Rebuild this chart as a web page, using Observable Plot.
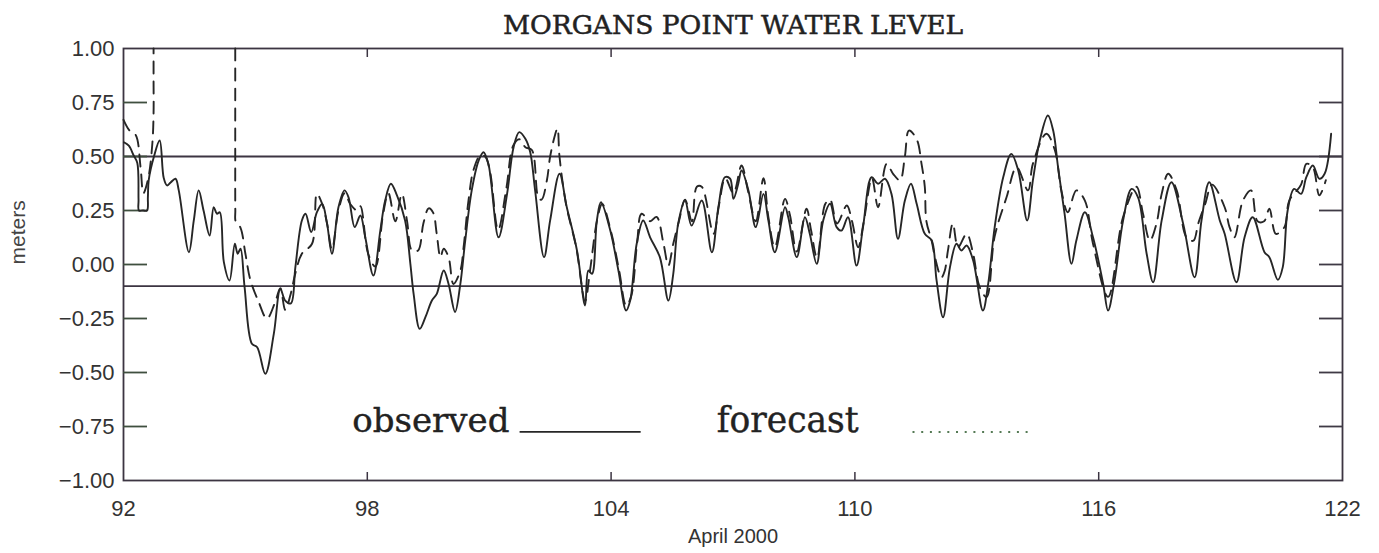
<!DOCTYPE html>
<html><head><meta charset="utf-8">
<script src="https://cdn.jsdelivr.net/npm/d3@7"></script>
<script src="https://cdn.jsdelivr.net/npm/@observablehq/plot@0.6"></script>
<style>
body{margin:0;background:#fff;}
#chart svg{display:block;}
</style>
</head><body><div id="chart"></div>
<script>
// ---- data (day of year, April 2000 ~ days 92-122; water level in meters) ----
const observed = [
[92.01,0.566],[92.13,0.55],[92.25,0.505],[92.34,0.47],[92.37,0.30],[92.38,0.25],[92.48,0.25],[92.58,0.25],[92.60,0.31],[92.62,0.39],[92.75,0.50],[92.89,0.574],[92.99,0.40],
[93.07,0.366],[93.16,0.38],[93.28,0.397],[93.36,0.343],[93.61,0.057],[93.73,0.204],[93.85,0.343],[93.97,0.25],[94.12,0.134],[94.22,0.265],
[94.30,0.235],[94.37,0.242],[94.47,0.011],[94.61,-0.074],[94.74,0.096],[94.81,0.05],[94.88,0.073],[94.98,-0.105],[95.16,-0.367],[95.29,-0.383],
[95.49,-0.506],[95.70,-0.32],[95.86,-0.113],[95.98,-0.167],[96.12,-0.18],[96.23,-0.012],[96.39,0.204],[96.48,0.235],[96.62,0.15],[96.76,0.242],
[96.89,0.28],[97.01,0.188],[97.13,0.05],[97.29,0.265],[97.44,0.343],[97.54,0.31],[97.69,0.173],[97.83,0.227],[97.95,0.126],[98.15,-0.051],
[98.32,0.157],[98.44,0.296],[98.58,0.374],[98.73,0.32],[98.93,0.204],[99.06,0.003],[99.14,-0.136],[99.29,-0.298],[99.43,-0.244],[99.59,-0.167],
[99.71,-0.136],[99.88,-0.028],[100.00,-0.09],[100.16,-0.22],[100.29,-0.09],[100.41,0.111],[100.57,0.343],[100.74,0.481],[100.86,0.52],[100.98,0.466],
[101.23,0.126],[101.44,0.327],[101.60,0.543],[101.74,0.613],[101.89,0.582],[102.01,0.52],[102.13,0.343],[102.35,0.034],[102.50,0.204],[102.73,0.42],
[102.91,0.265],[103.16,0.065],[103.36,-0.19],[103.44,-0.028],[103.53,-0.043],[103.65,0.204],[103.75,0.288],[103.98,0.157],[104.18,-0.028],[104.37,-0.213],
[104.47,-0.167],[104.63,0.096],[104.79,0.204],[104.96,0.126],[105.20,0.034],[105.41,-0.167],[105.53,-0.043],[105.65,0.188],[105.82,0.296],[105.98,0.18],
[106.23,0.296],[106.48,0.057],[106.64,0.265],[106.80,0.404],[106.93,0.397],[107.01,0.304],[107.13,0.374],[107.21,0.435],[107.38,0.343],[107.56,0.173],
[107.75,0.327],[107.87,0.204],[108.03,0.057],[108.28,0.265],[108.36,0.219],[108.57,0.034],[108.77,0.219],[108.89,0.142],[109.06,0.003],[109.22,0.204],
[109.39,0.281],[109.55,0.173],[109.67,0.157],[109.83,0.219],[110.04,-0.005],[110.20,0.173],[110.41,0.404],[110.57,0.374],[110.74,0.397],[110.90,0.327],
[111.06,0.119],[111.23,0.296],[111.38,0.374],[111.52,0.281],[111.72,0.142],[111.89,0.111],[112.01,-0.074],[112.17,-0.244],[112.34,-0.012],[112.50,0.096],
[112.62,0.065],[112.75,0.088],[112.91,0.019],[113.15,-0.213],[113.28,-0.09],[113.44,0.173],[113.65,0.404],[113.85,0.512],[114.02,0.435],[114.24,0.204],
[114.38,0.389],[114.55,0.574],[114.75,0.69],[114.88,0.62],[115.00,0.45],[115.16,0.235],[115.33,0.003],[115.45,0.111],[115.66,0.242],[115.86,0.126],
[116.11,-0.09],[116.23,-0.213],[116.39,-0.074],[116.60,0.204],[116.81,0.35],[116.97,0.31],[117.18,0.05],[117.34,-0.082],[117.55,0.204],[117.79,0.381],
[118.08,0.188],[118.36,-0.059],[118.53,0.204],[118.72,0.381],[118.98,0.204],[119.10,0.142],[119.39,-0.082],[119.59,0.126],[119.79,0.219],[120.08,0.057],
[120.20,0.034],[120.41,-0.071],[120.53,-0.012],[120.65,0.25],[120.81,0.35],[120.98,0.327],[121.11,0.404],[121.27,0.458],[121.43,0.397],[121.56,0.42],
[121.72,0.605]
];
// null = forecast missing (the line runs off the top of the chart)
const forecast = [
[92.00,0.67],[92.15,0.62],[92.30,0.60],[92.42,0.45],[92.49,0.33],[92.61,0.40],[92.71,0.56],[92.74,0.70],[92.74,0.85],[92.74,1.0],[92.75,null],[94.74,null],
[94.75,1.0],[94.75,0.8],[94.75,0.5],[94.752,0.25],[94.76,0.2],[94.88,0.17],[95.00,0.05],[95.12,-0.07],[95.32,-0.17],[95.53,-0.25],[95.74,-0.17],[95.86,-0.11],[95.98,-0.21],
[96.11,-0.14],[96.23,-0.04],[96.39,0.05],[96.64,0.096],[96.76,0.327],[96.89,0.28],[97.01,0.19],[97.13,0.07],[97.29,0.25],[97.44,0.33],
[97.58,0.28],[97.75,0.25],[97.83,0.27],[98.02,0.05],[98.20,-0.01],[98.39,0.235],[98.52,0.33],[98.69,0.20],[98.85,0.327],[98.98,0.2],
[99.10,0.065],[99.25,0.065],[99.38,0.19],[99.51,0.26],[99.62,0.24],[99.71,0.14],[99.80,0.034],[99.88,0.073],[100.00,0.034],[100.12,-0.09],
[100.29,-0.028],[100.37,0.08],[100.49,0.296],[100.61,0.435],[100.78,0.505],[100.90,0.50],[101.02,0.43],[101.22,0.16],[101.42,0.35],[101.59,0.55],
[101.74,0.58],[101.89,0.543],[102.05,0.53],[102.21,0.31],[102.29,0.30],[102.42,0.39],[102.50,0.5],[102.62,0.6],[102.68,0.63],[102.73,0.5],
[102.89,0.28],[103.14,0.08],[103.36,-0.17],[103.48,-0.03],[103.66,0.21],[103.78,0.28],[104.00,0.15],[104.20,-0.03],[104.37,-0.19],[104.49,-0.15],
[104.64,0.10],[104.75,0.235],[104.96,0.2],[105.12,0.22],[105.29,0.096],[105.41,-0.005],[105.53,0.096],[105.67,0.20],[105.82,0.30],[105.99,0.20],
[106.11,0.36],[106.23,0.36],[106.52,0.142],[106.66,0.28],[106.81,0.40],[107.01,0.33],[107.21,0.458],[107.37,0.34],[107.56,0.2],[107.75,0.40],
[107.87,0.22],[108.03,0.08],[108.28,0.304],[108.40,0.23],[108.57,0.06],[108.81,0.258],[108.92,0.16],[109.07,0.03],[109.27,0.28],[109.39,0.30],
[109.56,0.19],[109.80,0.273],[109.93,0.2],[110.08,0.08],[110.22,0.2],[110.42,0.40],[110.57,0.265],[110.78,0.466],[110.94,0.42],[111.11,0.39],
[111.23,0.5],[111.33,0.62],[111.52,0.58],[111.64,0.466],[111.72,0.36],[111.76,0.2],[111.89,0.11],[111.97,0.034],[112.13,-0.06],[112.21,-0.03],
[112.29,0.065],[112.41,0.19],[112.54,0.08],[112.75,0.142],[112.91,0.05],[113.07,-0.105],[113.24,-0.15],[113.44,0.13],[113.73,0.31],[113.98,0.45],
[114.26,0.343],[114.38,0.466],[114.71,0.605],[114.92,0.53],[115.08,0.343],[115.24,0.242],[115.45,0.343],[115.66,0.296],[115.86,0.096],[116.23,-0.15],
[116.60,0.22],[116.93,0.36],[117.09,0.235],[117.26,0.111],[117.42,0.188],[117.55,0.327],[117.71,0.42],[117.92,0.343],[118.16,0.126],[118.33,0.11],
[118.45,0.19],[118.62,0.28],[118.79,0.37],[119.10,0.265],[119.22,0.173],[119.34,0.126],[119.55,0.296],[119.75,0.343],[119.91,0.2],[120.07,0.2],
[120.20,0.258],[120.36,0.142],[120.57,0.173],[120.69,0.296],[120.98,0.37],[121.11,0.466],[121.27,0.45],[121.43,0.32],[121.59,0.39]
];
const xTicks = [92, 98, 104, 110, 116, 122];
const xInnerTicks = [98, 104, 110, 116];
const yTickLabels = [1, 0.75, 0.5, 0.25, 0, -0.25, -0.5, -0.75, -1];
const yTickMarks = [0.75, 0.5, 0.25, 0, -0.25, -0.5, -0.75];
const refLevels = [0.5, -0.1];
const titleText = "MORGANS POINT WATER LEVEL";
const xLabel = "April 2000";
const yLabel = "meters";
const legendNames = ["observed", "forecast"];

// ---- layout / style (not data) ----
const W = 1379, H = 553;
const ink = "#262626";
const frameInk = "#3c3542";
const sans = "'Liberation Sans', Arial, sans-serif";
const serif = "'DejaVu Serif', serif";
const legendY = -0.775;          // legend baseline (in meters)
const legendObs = {text: 97.63, x1: 101.76, x2: 104.74};
const legendFc  = {text: 106.6, x1: 111.43, x2: 114.38};

const obsRows = observed.map(([d, v]) => ({d, v}));
const fcRows = forecast.map(([d, v]) => ({d, v}));
const fmt = d3.format(".2f");

const chart = Plot.plot({
  width: W, height: H,
  marginLeft: 123, marginRight: 37, marginTop: 48, marginBottom: 73,
  style: {fontFamily: sans, color: ink, background: "#fff"},
  x: {domain: [92, 122]},
  y: {domain: [-1, 1]},
  marks: [
    Plot.ruleY(refLevels, {stroke: frameInk, strokeWidth: 1.8}),
    Plot.frame({stroke: frameInk, strokeWidth: 1.8}),
    // inward ticks
    Plot.axisY(yTickMarks, {anchor: "left", tickSize: -24, tickFormat: () => "", stroke: "#3f4f3f", strokeWidth: 1.8, label: null}),
    Plot.axisY(yTickMarks, {anchor: "right", tickSize: -24, tickFormat: () => "", stroke: "#3f3a45", strokeWidth: 1.8, label: null}),
    Plot.axisX(xInnerTicks, {anchor: "bottom", tickSize: -8, tickFormat: () => "", stroke: frameInk, strokeWidth: 1.5, label: null}),
    Plot.axisX(xInnerTicks, {anchor: "top", tickSize: -8, tickFormat: () => "", stroke: frameInk, strokeWidth: 1.5, label: null}),
    // labels
    Plot.axisY(yTickLabels, {anchor: "left", tickSize: 0, tickPadding: 9, tickFormat: fmt, fontSize: 22, fill: "#333", label: null}),
    Plot.axisX(xTicks, {anchor: "bottom", tickSize: 0, tickPadding: 20, tickFormat: d3.format("d"), fontSize: 22, fill: "#333", label: null}),
    Plot.text([xLabel], {frameAnchor: "bottom", dy: 62, text: d => d, fontSize: 20, fill: "#333"}),
    Plot.text([yLabel], {frameAnchor: "left", dx: -105, rotate: -90, text: d => d, fontSize: 21, fill: "#444"}),
    Plot.text([titleText], {frameAnchor: "top", dy: -15, lineAnchor: "bottom", text: d => d, fontFamily: serif, fontSize: 26.5, fill: "#222", stroke: "#222", strokeWidth: 0.5, letterSpacing: 0.3}),
    // series
    Plot.line(fcRows, {x: "d", y: "v", stroke: ink, strokeWidth: 1.9, strokeDasharray: "12,8", curve: "catmull-rom"}),
    Plot.line(obsRows, {x: "d", y: "v", stroke: ink, strokeWidth: 1.9, curve: "catmull-rom"}),
    // legend
    Plot.text([legendNames[0]], {x: legendObs.text, y: legendY, text: d => d, textAnchor: "start", lineAnchor: "bottom", fontFamily: serif, fontSize: 34, fill: "#222", stroke: "#222", strokeWidth: 0.4}),
    Plot.text([legendNames[1]], {x: legendFc.text, y: legendY, text: d => d, textAnchor: "start", lineAnchor: "bottom", fontFamily: serif, fontSize: 34.5, fill: "#222", stroke: "#222", strokeWidth: 0.4}),
    Plot.ruleY([legendY], {x1: legendObs.x1, x2: legendObs.x2, stroke: ink, strokeWidth: 1.6}),
    Plot.ruleY([legendY], {x1: legendFc.x1, x2: legendFc.x2, stroke: "#557a55", strokeWidth: 2, strokeDasharray: "2,6.7"})
  ]
});
document.getElementById("chart").appendChild(chart);
</script>
</body></html>
